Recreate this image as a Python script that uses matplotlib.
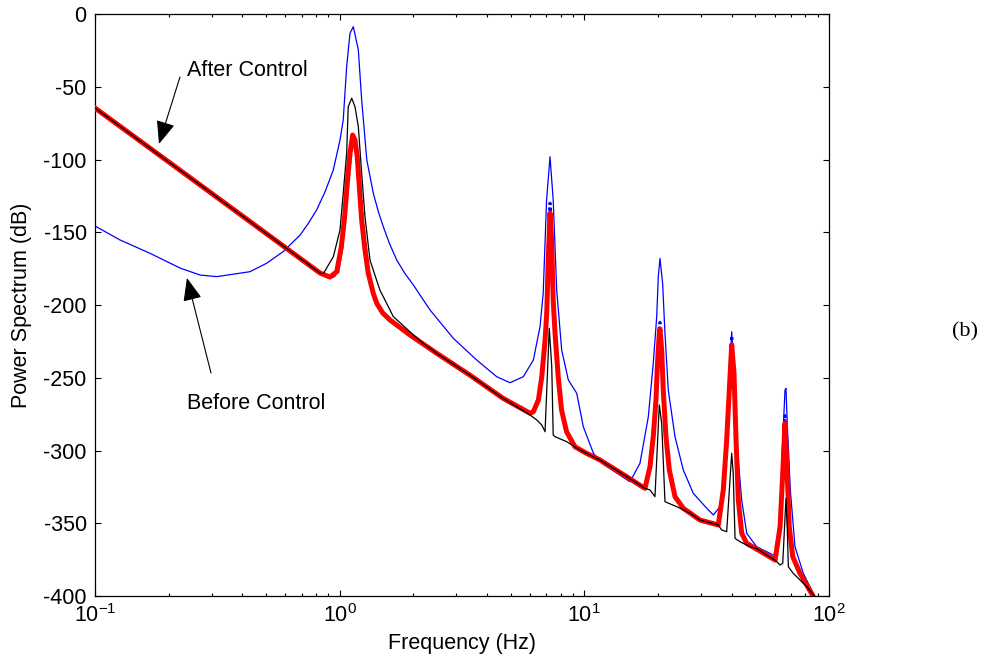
import matplotlib
matplotlib.use("Agg")
import matplotlib.pyplot as plt

plt.rcParams['font.family'] = ['Liberation Sans', 'DejaVu Sans']
plt.rcParams['mathtext.default'] = 'regular'
plt.rcParams['axes.unicode_minus'] = False

# ── Spectra (frequency in Hz, power in dB) ───────────────────────────────────
# uncontrolled response
before_f = [0.1, 0.1265, 0.168, 0.2226, 0.2687, 0.3144, 0.430, 0.503, 0.5865, 0.6884,
            0.742, 0.805, 0.871, 0.942, 1.003, 1.034, 1.068, 1.102, 1.137, 1.192,
            1.230, 1.291, 1.372, 1.44, 1.508, 1.60, 1.711, 1.85, 2.0, 2.34,
            2.914, 3.63, 4.385, 4.97, 5.63, 6.19, 6.59, 6.79, 7.01, 7.24,
            7.46, 7.71, 8.08, 8.60, 9.31, 9.90, 10.9, 11.96, 13.57, 15.37,
            16.88, 18.26, 19.13, 19.76, 20.06, 20.38, 20.89, 21.36, 22.03, 23.47,
            25.38, 27.88, 31.64, 33.67, 35.85, 37.57, 38.76, 40.02, 41.2, 41.9,
            43.97, 46.1, 50.6, 61.1, 63.1, 64.7, 66.1, 66.7, 67.5, 69.5,
            72.6, 78.5, 86.2]
before_db = [-145.7, -155.3, -164.5, -174.6, -179.4, -180.5, -177.1, -171.3, -163.4, -152.0,
             -144.3, -134.7, -122.3, -107.2, -86.6, -72.9, -36.2, -13.3, -8.7, -24.7,
             -59.1, -100.3, -123.2, -136.0, -146.2, -158.0, -169.1, -178.5, -186.2, -203.4,
             -222.9, -237.8, -249.3, -253.4, -249.3, -237.8, -214.9, -192.0, -127.8, -98.1,
             -127.8, -189.7, -230.9, -251.5, -260.7, -283.6, -302.0, -309.5, -315.5, -321.5,
             -308.8, -276.8, -240.1, -208.0, -180.5, -168.0, -185.1, -219.5, -258.4, -290.5,
             -313.4, -329.4, -339.7, -344.3, -338.6, -311.1, -269.9, -218.4, -255.0, -292.8,
             -334.0, -356.9, -366.1, -373.0, -343.2, -292.8, -258.4, -257.3, -281.3, -327.1,
             -366.1, -384.4, -398.2]

# controlled response
after_f = [0.1, 0.269, 0.831, 0.913, 0.973, 1.016, 1.048, 1.071, 1.102, 1.130,
           1.155, 1.180, 1.203, 1.230, 1.269, 1.309, 1.372, 1.417, 1.50, 1.606,
           1.938, 2.493, 3.40, 4.65, 6.00, 6.19, 6.49, 6.70, 6.91, 7.02,
           7.12, 7.24, 7.35, 7.46, 7.59, 7.82, 8.07, 8.46, 9.15, 10.2,
           11.58, 14.9, 17.4, 17.7, 18.55, 19.13, 19.63, 19.87, 20.25, 20.38,
           20.71, 21.02, 21.56, 22.25, 23.47, 25.38, 29.7, 35.28, 36.98, 38.18,
           39.13, 40.02, 40.9, 41.7, 42.6, 43.97, 46.1, 55.6, 60.2, 63.1,
           64.7, 66.1, 67.5, 68.8, 71.1, 76.1, 86.0]
after_db = [-64.6, -117.5, -178.0, -180.8, -177.1, -159.9, -139.3, -118.7, -95.7, -83.2,
            -86.6, -98.1, -118.7, -141.6, -162.2, -178.2, -192.0, -198.8, -205.5, -210.3,
            -220.6, -233.2, -248.1, -264.1, -274.4, -273.3, -265.3, -249.3, -224.1, -205.7,
            -169.1, -136.8, -155.3, -196.6, -219.4, -249.3, -272.2, -287.1, -297.4, -301.9,
            -306.5, -318.0, -325.3, -326.0, -311.1, -290.5, -265.3, -242.4, -219.5, -216.5,
            -230.9, -258.4, -290.5, -313.4, -331.7, -339.7, -347.8, -351.2, -327.1, -292.8,
            -258.4, -227.5, -246.9, -292.8, -334.0, -356.9, -363.8, -371.8, -375.3, -352.4,
            -315.7, -281.3, -315.7, -352.4, -373.0, -384.4, -400.0]

# controlled response, second estimate (dotted, mostly hidden under the red)
est_f = [0.1, 0.269, 0.831, 0.92, 0.98, 1.02, 1.05, 1.075, 1.105, 1.132,
         1.162, 1.19, 1.215, 1.243, 1.282, 1.322, 1.385, 1.43, 1.51, 1.606,
         1.938, 2.493, 3.40, 4.65, 6.00, 6.19, 6.49, 6.70, 6.91, 7.02,
         7.12, 7.24, 7.35, 7.46, 7.59, 7.82, 8.07, 8.46, 9.15, 10.2,
         11.58, 14.9, 17.4, 17.7, 18.55, 19.13, 19.63, 19.87, 20.25, 20.38,
         20.71, 21.02, 21.56, 22.25, 23.47, 25.38, 29.7, 35.28, 36.98, 38.18,
         39.13, 40.02, 40.9, 41.7, 42.6, 43.97, 46.1, 55.6, 60.2, 63.1,
         64.7, 66.1, 67.5, 68.8, 71.1, 76.1, 86.0]
est_db = [-64.6, -117.5, -178.0, -181.5, -178.0, -161.0, -141.0, -121.0, -99.0, -88.5,
          -92.0, -103.0, -122.0, -144.0, -164.0, -180.0, -193.5, -200.0, -206.0, -210.3,
          -220.6, -233.2, -248.1, -264.1, -274.4, -273.3, -265.3, -249.3, -224.1, -200.0,
          -160.0, -130.0, -150.0, -196.6, -219.4, -249.3, -272.2, -287.1, -297.4, -301.9,
          -306.5, -318.0, -325.3, -326.0, -311.1, -290.5, -265.3, -240.0, -214.0, -212.0,
          -230.9, -258.4, -290.5, -313.4, -331.7, -339.7, -347.8, -351.2, -327.1, -292.8,
          -255.0, -221.0, -246.9, -292.8, -334.0, -356.9, -363.8, -371.8, -375.3, -352.4,
          -313.0, -276.0, -315.7, -352.4, -373.0, -384.4, -400.0]

# reference (black) response
ref_f = [0.1, 0.269, 0.831, 0.857, 0.942, 1.003, 1.034, 1.068, 1.084, 1.12,
         1.155, 1.192, 1.230, 1.269, 1.33, 1.462, 1.508, 1.657, 1.938, 2.2,
         2.493, 3.40, 4.65, 6.00, 6.39, 6.70, 6.91, 7.19, 7.36, 7.46,
         7.59, 8.46, 9.60, 9.9, 10.2, 11.58, 14.9, 17.4, 17.7, 18.55,
         19.44, 20.25, 20.71, 21.36, 23.85, 27.0, 29.7, 35.28, 36.4, 38.18,
         40.02, 40.6, 41.3, 43.3, 47.5, 50.6, 55.6, 60.2, 63.1, 64.7,
         66.7, 67.5, 68.2, 71.4, 81.1, 87.6]
ref_db = [-64.6, -117.5, -178.0, -178.5, -166.8, -148.5, -123.2, -95.7, -63.7, -57.9,
          -63.7, -77.5, -109.5, -139.3, -169.1, -190.0, -194.3, -208.0, -218.4, -226.5,
          -233.2, -248.1, -264.1, -275.6, -279.0, -282.5, -287.1, -216.0, -242.4, -289.3,
          -290.5, -293.9, -299.7, -300.8, -301.9, -306.5, -318.0, -325.3, -326.0, -327.1,
          -331.7, -268.7, -281.3, -335.2, -338.6, -343.0, -347.8, -351.2, -354.6, -355.8,
          -301.9, -315.7, -360.4, -362.7, -366.1, -367.4, -371.8, -375.3, -378.7, -377.5,
          -332.9, -352.4, -379.9, -384.4, -393.6, -400.5]

Y_TICKS = list(range(-400, 1, 50))

# ── Figure ───────────────────────────────────────────────────────────────────
fig = plt.figure(figsize=(9.87, 6.69), dpi=100)
ax = fig.add_axes([95 / 987, 1 - 596 / 669, 734 / 987, 582 / 669])

ax.plot(before_f, before_db, color='#0000ff', lw=0.9, zorder=2)
ax.plot(est_f, est_db, color='#0000ff', lw=2.2, ls=(0, (1, 1)), zorder=3)
ax.plot(after_f, after_db, color='#ff0000', lw=3.6, zorder=4)
ax.plot(ref_f, ref_db, color='black', lw=0.9, zorder=5)

ax.set_xscale('log')
ax.set_xlim(0.1, 100)
ax.set_ylim(-400, 0)
ax.set_yticks(Y_TICKS)
ax.tick_params(which='both', direction='in', top=True, right=True, labelsize=15.5,
               width=0.8, colors='black')
ax.tick_params(which='major', length=4, pad=6)
ax.tick_params(which='minor', length=2.5)
for sp in ax.spines.values():
    sp.set_linewidth(0.9)

ax.set_xlabel('Frequency (Hz)', fontsize=15.5, labelpad=4)
ax.set_ylabel('Power Spectrum (dB)', fontsize=15.5, labelpad=8)

# annotations
arrow = dict(arrowstyle='-|>,head_length=1.1,head_width=0.45', color='black',
             lw=0.8, shrinkA=0, shrinkB=0, mutation_scale=13)
ax.text(0.2376, -38.5, 'After Control', fontsize=15.5, ha='left', va='center')
ax.annotate('', xy=(0.1826, -89.3), xytext=(0.2225, -43.3), arrowprops=arrow)
ax.text(0.2376, -267.4, 'Before Control', fontsize=15.5, ha='left', va='center')
ax.annotate('', xy=(0.2376, -181.4), xytext=(0.2979, -246.7), arrowprops=arrow)

fig.text(965 / 987, 1 - 332 / 669, '(b)', family=['Liberation Serif', 'DejaVu Serif'],
         fontsize=16, ha='center', va='center')

fig.savefig('out.png', dpi=100)
